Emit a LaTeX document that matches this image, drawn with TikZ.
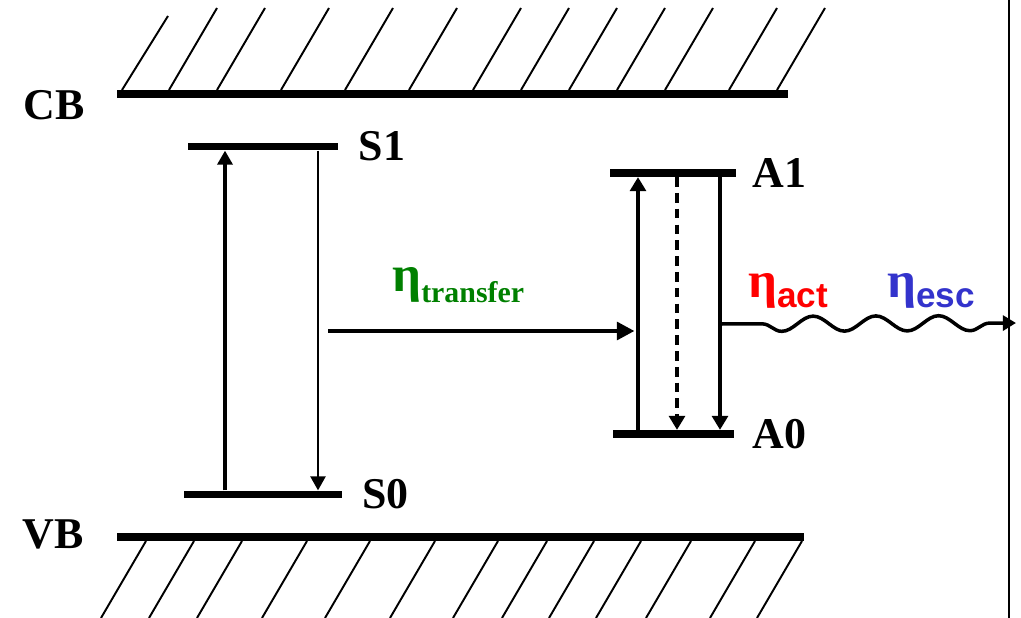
\documentclass[tikz,border=0pt]{standalone}
\usepackage{fontspec}
\setmainfont{Liberation Serif}
\newfontfamily\arialfont{Liberation Sans}
\usepackage{tikz}
\usetikzlibrary{positioning, arrows.meta, decorations.pathmorphing}
\definecolor{etagreen}{RGB}{0,128,0}
\definecolor{etared}{RGB}{255,0,0}
\definecolor{etablue}{RGB}{51,51,204}

\begin{document}
\begin{tikzpicture}[
    x=0.02cm, y=-0.02cm,
    node distance=0.4cm,
    level/.style={rectangle, fill=black, inner sep=0pt, minimum height=0.15cm},
    band/.style={line width=4.3pt},
    hatch/.style={line width=1.1pt},
    lbl/.style={inner sep=0pt, font=\fontsize{25}{30}\selectfont\bfseries},
    eta/.style={inner sep=0pt, anchor=base west, font=\fontsize{29}{30}\selectfont\bfseries},
    arr/.style={-{Triangle[length=8pt, width=8.5pt]}, line width=1.5pt},
    thickarr/.style={-{Triangle[length=8pt, width=9pt]}, line width=2.5pt},
    big/.style={-{Triangle[length=10pt, width=10pt]}, line width=2.3pt},
    wave/.style={-{Triangle[length=7.5pt, width=8.5pt]}, line width=2pt, decorate,
                 decoration={snake, mirror, segment length=35.7pt, amplitude=4.3pt,
                             pre length=24pt, post length=14pt}}
]
    \useasboundingbox (0,0) rectangle (1021,618);

    % conduction and valence bands
    \draw[band] (117,94) -- (788,94);
    \draw[hatch] (122,90) -- ++(46,-74);
    \foreach \x in {169,217,281,345,409,473,521,569,617,665,729,777}
        \draw[hatch] (\x,90) -- ++(48,-82);
    \draw[band] (117,537) -- (804,537);
    \foreach \x in {146,194,242,307,370,435,498,547,594,641,691,755,802}
        \draw[hatch] (\x,541) -- ++(-45,77);
    \node[lbl, anchor=base west] (cb) at (23,120) {CB};
    \node[lbl, anchor=base west] (vb) at (22,548) {VB};

    % levels
    \node[level, minimum width=3cm]    (S1) at (263,146.5) {};
    \node[level, minimum width=3.15cm] (S0) at (263,494.5) {};
    \node[level, minimum width=2.52cm] (A1) at (673,173) {};
    \node[level, minimum width=2.42cm] (A0) at (673.5,434) {};
    \node[lbl, right=of S1]        (s1lbl) {S1};
    \node[lbl, right=of S0]        (s0lbl) {S0};
    \node[lbl, right=0.32cm of A1] (a1lbl) {A1};
    \node[lbl, right=0.36cm of A0] (a0lbl) {A0};

    \coordinate (exc) at (225,0);
    \coordinate (rel) at (318,0);
    \coordinate (absx) at (638,0);
    \coordinate (nrx) at (677,0);
    \coordinate (emx) at (720,0);
    \coordinate (don) at (328,331);
    \coordinate (emit) at (720,324);
    \coordinate (out) at (1016,323);

    \draw[arr, line width=2pt] (S0.north -| exc) -- (S1.south -| exc);
    \draw[arr] (S1.south -| rel) -- (S0.north -| rel);
    \draw[thickarr] (A0.north -| absx) -- (A1.south -| absx);
    \draw[thickarr, dash pattern=on 5.5pt off 3.5pt] (A1.south -| nrx) -- (A0.north -| nrx);
    \draw[thickarr] (A1.south -| emx) -- (A0.north -| emx);
    \draw[big, shorten >=2pt] (don) -- (don -| absx);
    \draw[wave] (emit) -- (out);

    % efficiencies
    \node[eta, text=etagreen] (etr) at (392,292)
        {η\raisebox{-5.7pt}{\fontsize{17}{20}\selectfont transfer}};
    \node[eta, text=etared] (eact) at (748,297)
        {η\raisebox{-5.7pt}{\arialfont\fontsize{20}{24}\selectfont act}};
    \node[eta, text=etablue] (eesc) at (887,297)
        {η\raisebox{-5.7pt}{\arialfont\fontsize{20}{24}\selectfont esc}};

    % wall
    \draw[line width=1.5pt] (1009,0) -- (1009,618);
\end{tikzpicture}
\end{document}
